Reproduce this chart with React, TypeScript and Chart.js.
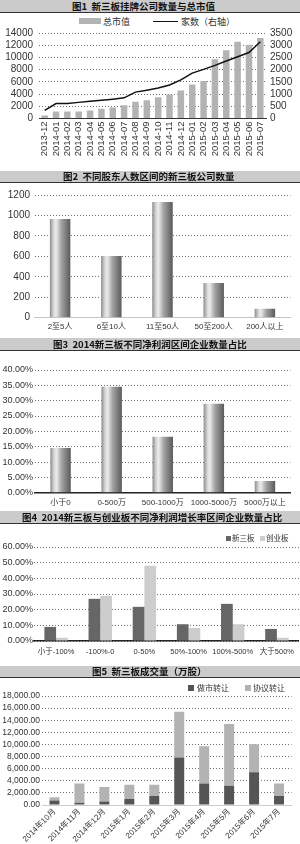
import React, { useEffect, useRef } from "react";
import { Chart, registerables } from "chart.js";

Chart.register(...registerables);

const FONT = '"Liberation Sans", "Noto Sans CJK SC", sans-serif';
const CJK = '"Noto Sans CJK SC", "Liberation Sans", sans-serif';
Chart.defaults.font.family = FONT;
Chart.defaults.color = "#333";

// ---------- Figure 1: 新三板挂牌公司数量与总市值
const fig1Months = [
  "2013-12", "2014-01", "2014-02", "2014-03", "2014-04", "2014-05", "2014-06",
  "2014-07", "2014-08", "2014-09", "2014-10", "2014-11", "2014-12", "2015-01",
  "2015-02", "2015-03", "2015-04", "2015-05", "2015-06", "2015-07",
];
const fig1MarketValue = [
  500, 1160, 1160, 1160, 1320, 1600, 1820, 2150, 2760, 2980,
  3470, 3910, 4600, 5570, 6150, 9690, 11180, 12560, 12070, 13170,
];
const fig1Companies = [
  330, 610, 610, 660, 705, 745, 790, 845, 1080, 1160,
  1245, 1370, 1580, 1860, 2010, 2175, 2355, 2525, 2700, 3140,
];
const fig1LeftAxis = { min: 0, max: 14000, step: 2000 };
const fig1RightAxis = { min: 0, max: 3500, step: 500 };

// ---------- Figure 2: 不同股东人数区间的新三板公司数量
const fig2Groups = ["2至5人", "6至10人", "11至50人", "50至200人", "200人以上"];
const fig2Counts = [966, 604, 1132, 339, 88];
const fig2Axis = { min: 0, max: 1200, step: 200 };

// ---------- Figure 3: 2014新三板不同净利润区间企业数量占比
const fig3Ranges = ["小于0", "0-500万", "500-1000万", "1000-5000万", "5000万以上"];
const fig3Shares = [14.6, 34.5, 18.2, 29.0, 3.8];
const fig3Axis = { min: 0, max: 40, step: 5 };

// ---------- Figure 4: 新三板与创业板不同净利润增长率区间企业数量占比
const fig4Ranges = ["小于-100%", "-100%-0", "0-50%", "50%-100%", "100%-500%", "大于500%"];
const fig4NEEQ = [9.0, 26.9, 21.8, 10.7, 23.7, 7.7];
const fig4ChiNext = [2.1, 28.8, 48.1, 8.3, 10.7, 2.1];
const fig4Axis = { min: 0, max: 60, step: 10 };

// ---------- Figure 5: 新三板成交量（万股）
const fig5Months = [
  "2014年10月", "2014年11月", "2014年12月", "2015年1月", "2015年2月",
  "2015年3月", "2015年4月", "2015年5月", "2015年6月", "2015年7月",
];
const fig5MarketMaking = [725, 390, 560, 1000, 1500, 7860, 3570, 3180, 5400, 1500];
const fig5Agreement = [560, 3180, 2400, 2340, 1840, 7520, 6130, 10200, 4630, 2060];
const fig5Axis = { min: 0, max: 18000, step: 2000 };

// ---------- helpers
const baseOptions = (padding: any) => ({
  responsive: false,
  animation: false as const,
  devicePixelRatio: 1,
  layout: { padding },
  plugins: { legend: { display: false }, tooltip: { enabled: false } },
});

function valueAxis(o: {
  min: number; max: number; step: number; width: number; size: number; pad: number;
  fmt?: (v: number) => string; position?: string; grid?: boolean;
}) {
  return {
    type: "linear",
    position: o.position || "left",
    min: o.min,
    max: o.max,
    grid: { display: o.grid !== false, color: "#6f6f6f", lineWidth: 1, drawTicks: false },
    border: { display: false, dash: [1, 2] },
    ticks: {
      stepSize: o.step,
      autoSkip: false,
      padding: o.pad,
      font: { size: o.size },
      color: "#333",
      callback: (v: any) => (o.fmt ? o.fmt(Number(v)) : String(v)),
    },
    afterFit: (s: any) => { s.width = o.width; },
  };
}

function catAxis(o: { height: number; size: number; pad: number; rot?: number; border: string; bw?: number; stacked?: boolean }) {
  return {
    type: "category",
    stacked: !!o.stacked,
    grid: { display: false, drawTicks: false },
    border: { display: true, color: o.border, width: o.bw || 1 },
    ticks: {
      autoSkip: false,
      minRotation: o.rot || 0,
      maxRotation: o.rot || 0,
      padding: o.pad,
      font: { size: o.size },
      color: "#333",
    },
    afterFit: (s: any) => { s.height = o.height; },
  };
}

function cylinder(ctx: any) {
  const chart = ctx.chart;
  const xs = chart.scales && chart.scales.x;
  if (!xs || !chart.chartArea || ctx.dataIndex == null) return "#888";
  const cx = xs.getPixelForValue(ctx.dataIndex);
  const w = (xs.width / xs.ticks.length) * 0.4;
  const g = chart.ctx.createLinearGradient(cx - w / 2, 0, cx + w / 2, 0);
  g.addColorStop(0, "#8c8c8c");
  g.addColorStop(0.18, "#d6d6d6");
  g.addColorStop(0.3, "#ececec");
  g.addColorStop(0.55, "#a4a4a4");
  g.addColorStop(1, "#5a5a5a");
  return g;
}

const pct = (v: number) => v.toFixed(2) + "%";
const money = (v: number) =>
  v.toLocaleString("en-US", { minimumFractionDigits: 2, maximumFractionDigits: 2 });

// ---------- chart builders
const build1 = () => ({
  type: "bar",
  data: {
    labels: fig1Months,
    datasets: [
      {
        type: "line", label: "家数（右轴）", data: fig1Companies, yAxisID: "y1",
        borderColor: "#111", borderWidth: 1.5, pointRadius: 0, tension: 0, order: 0,
      },
      {
        type: "bar", label: "总市值", data: fig1MarketValue, yAxisID: "y",
        backgroundColor: "#b3b3b3", categoryPercentage: 0.6, barPercentage: 0.95, order: 1,
      },
    ],
  },
  options: {
    ...baseOptions({ top: 20, left: 0, right: 0, bottom: 0 }),
    scales: {
      x: catAxis({ height: 51.5, size: 9.5, pad: 3, rot: 90, border: "#333" }),
      y: valueAxis({ ...fig1LeftAxis, width: 39, size: 10, pad: 6 }),
      y1: valueAxis({ ...fig1RightAxis, width: 34, size: 10, pad: 4, position: "right", grid: false }),
    },
  },
});

const build2 = () => ({
  type: "bar",
  data: {
    labels: fig2Groups,
    datasets: [{ data: fig2Counts, backgroundColor: cylinder, categoryPercentage: 0.4, barPercentage: 1 }],
  },
  options: {
    ...baseOptions({ top: 12, left: 0, right: 9.5, bottom: 0 }),
    scales: {
      x: catAxis({ height: 18.3, size: 8, pad: 4.5, border: "#c4c4c4" }),
      y: valueAxis({ ...fig2Axis, width: 34.5, size: 10, pad: 4.5 }),
    },
  },
});

const build3 = () => ({
  type: "bar",
  data: {
    labels: fig3Ranges,
    datasets: [{ data: fig3Shares, backgroundColor: cylinder, categoryPercentage: 0.4, barPercentage: 1 }],
  },
  options: {
    ...baseOptions({ top: 18, left: 0, right: 9.5, bottom: 0 }),
    scales: {
      x: catAxis({ height: 19.3, size: 8, pad: 5.5, border: "#222", bw: 1.5 }),
      y: valueAxis({ ...fig3Axis, width: 35, size: 9, pad: 2, fmt: pct }),
    },
  },
});

const build4 = () => ({
  type: "bar",
  data: {
    labels: fig4Ranges,
    datasets: [
      { label: "新三板", data: fig4NEEQ, backgroundColor: "#666666", categoryPercentage: 0.53, barPercentage: 1 },
      { label: "创业板", data: fig4ChiNext, backgroundColor: "#cdcdcd", categoryPercentage: 0.53, barPercentage: 1 },
    ],
  },
  options: {
    ...baseOptions({ top: 23, left: 0, right: 0, bottom: 0 }),
    scales: {
      x: catAxis({ height: 24, size: 7.5, pad: 6, border: "#222", bw: 1.5 }),
      y: valueAxis({ ...fig4Axis, width: 34, size: 9, pad: 1, fmt: pct }),
    },
  },
});

const build5 = () => ({
  type: "bar",
  data: {
    labels: fig5Months,
    datasets: [
      { label: "做市转让", data: fig5MarketMaking, backgroundColor: "#555555", categoryPercentage: 0.4, barPercentage: 1 },
      { label: "协议转让", data: fig5Agreement, backgroundColor: "#b3b3b3", categoryPercentage: 0.4, barPercentage: 1 },
    ],
  },
  options: {
    ...baseOptions({ top: 17, left: 0, right: 8.5, bottom: 0 }),
    scales: {
      x: catAxis({ height: 39, size: 8, pad: 2, rot: 45, border: "#cccccc", stacked: true }),
      y: { ...valueAxis({ ...fig5Axis, width: 42, size: 8.5, pad: 2, fmt: money }), stacked: true },
    },
  },
});

// ---------- components
function ChartCanvas({ top, height, build }: { top: number; height: number; build: () => any }) {
  const ref = useRef<HTMLCanvasElement>(null);
  useEffect(() => {
    if (!ref.current) return;
    const chart = new Chart(ref.current, build());
    return () => chart.destroy();
  }, []);
  return (
    <canvas
      ref={ref}
      width={300}
      height={height}
      style={{ position: "absolute", left: 0, top, width: 300, height, display: "block" }}
    />
  );
}

function Band({ top, height, left, text }: { top: number; height: number; left: number; text: string }) {
  return (
    <div
      style={{
        position: "absolute", left: 0, top, width: 300, height,
        background: "#cbcbcb", borderBottom: "1.5px solid #333",
      }}
    >
      <span
        style={{
          position: "absolute", left, top: 0, lineHeight: height + "px",
          fontFamily: CJK, fontSize: 9.5, fontWeight: 700, color: "#111", whiteSpace: "pre",
        }}
      >
        {text}
      </span>
    </div>
  );
}

function Txt({ left, top, size, children }: any) {
  return (
    <span
      style={{
        position: "absolute", left, top, fontFamily: CJK, fontSize: size, color: "#333",
        lineHeight: 1, whiteSpace: "nowrap",
      }}
    >
      {children}
    </span>
  );
}

function Box({ left, top, w, h, color }: any) {
  return <div style={{ position: "absolute", left, top, width: w, height: h, background: color }} />;
}

export default function App() {
  return (
    <div style={{ position: "absolute", left: 0, top: 0, width: 300, height: 844, background: "#fff", overflow: "hidden" }}>
      <Band top={0} height={12} left={72} text="图1  新三板挂牌公司数量与总市值" />
      <Box left={79} top={18} w={22} h={6} color="#b3b3b3" />
      <Txt left={103} top={16.5} size={9}>总市值</Txt>
      <Box left={153} top={20.5} w={25} h={1.5} color="#111" />
      <Txt left={181} top={16.5} size={9}>家数（右轴）</Txt>
      <ChartCanvas top={13} height={157} build={build1} />

      <Band top={171} height={11} left={63} text="图2  不同股东人数区间的新三板公司数量" />
      <ChartCanvas top={183} height={153} build={build2} />

      <Band top={338} height={12} left={53} text="图3  2014新三板不同净利润区间企业数量占比" />
      <ChartCanvas top={352} height={160} build={build3} />

      <Band top={511} height={12} left={22} text="图4  2014新三板与创业板不同净利润增长率区间企业数量占比" />
      <Box left={226} top={535.5} w={5} h={5} color="#666666" />
      <Txt left={232} top={534} size={7.5}>新三板</Txt>
      <Box left={260} top={535.5} w={5} h={5} color="#cdcdcd" />
      <Txt left={266} top={534} size={7.5}>创业板</Txt>
      <ChartCanvas top={524} height={141} build={build4} />

      <Band top={666} height={11} left={92} text="图5  新三板成交量（万股）" />
      <Box left={188} top={685} w={6} h={6} color="#555555" />
      <Txt left={197} top={684} size={8}>做市转让</Txt>
      <Box left={245} top={685} w={6} h={6} color="#b3b3b3" />
      <Txt left={253} top={684} size={8}>协议转让</Txt>
      <ChartCanvas top={679} height={165} build={build5} />
    </div>
  );
}
